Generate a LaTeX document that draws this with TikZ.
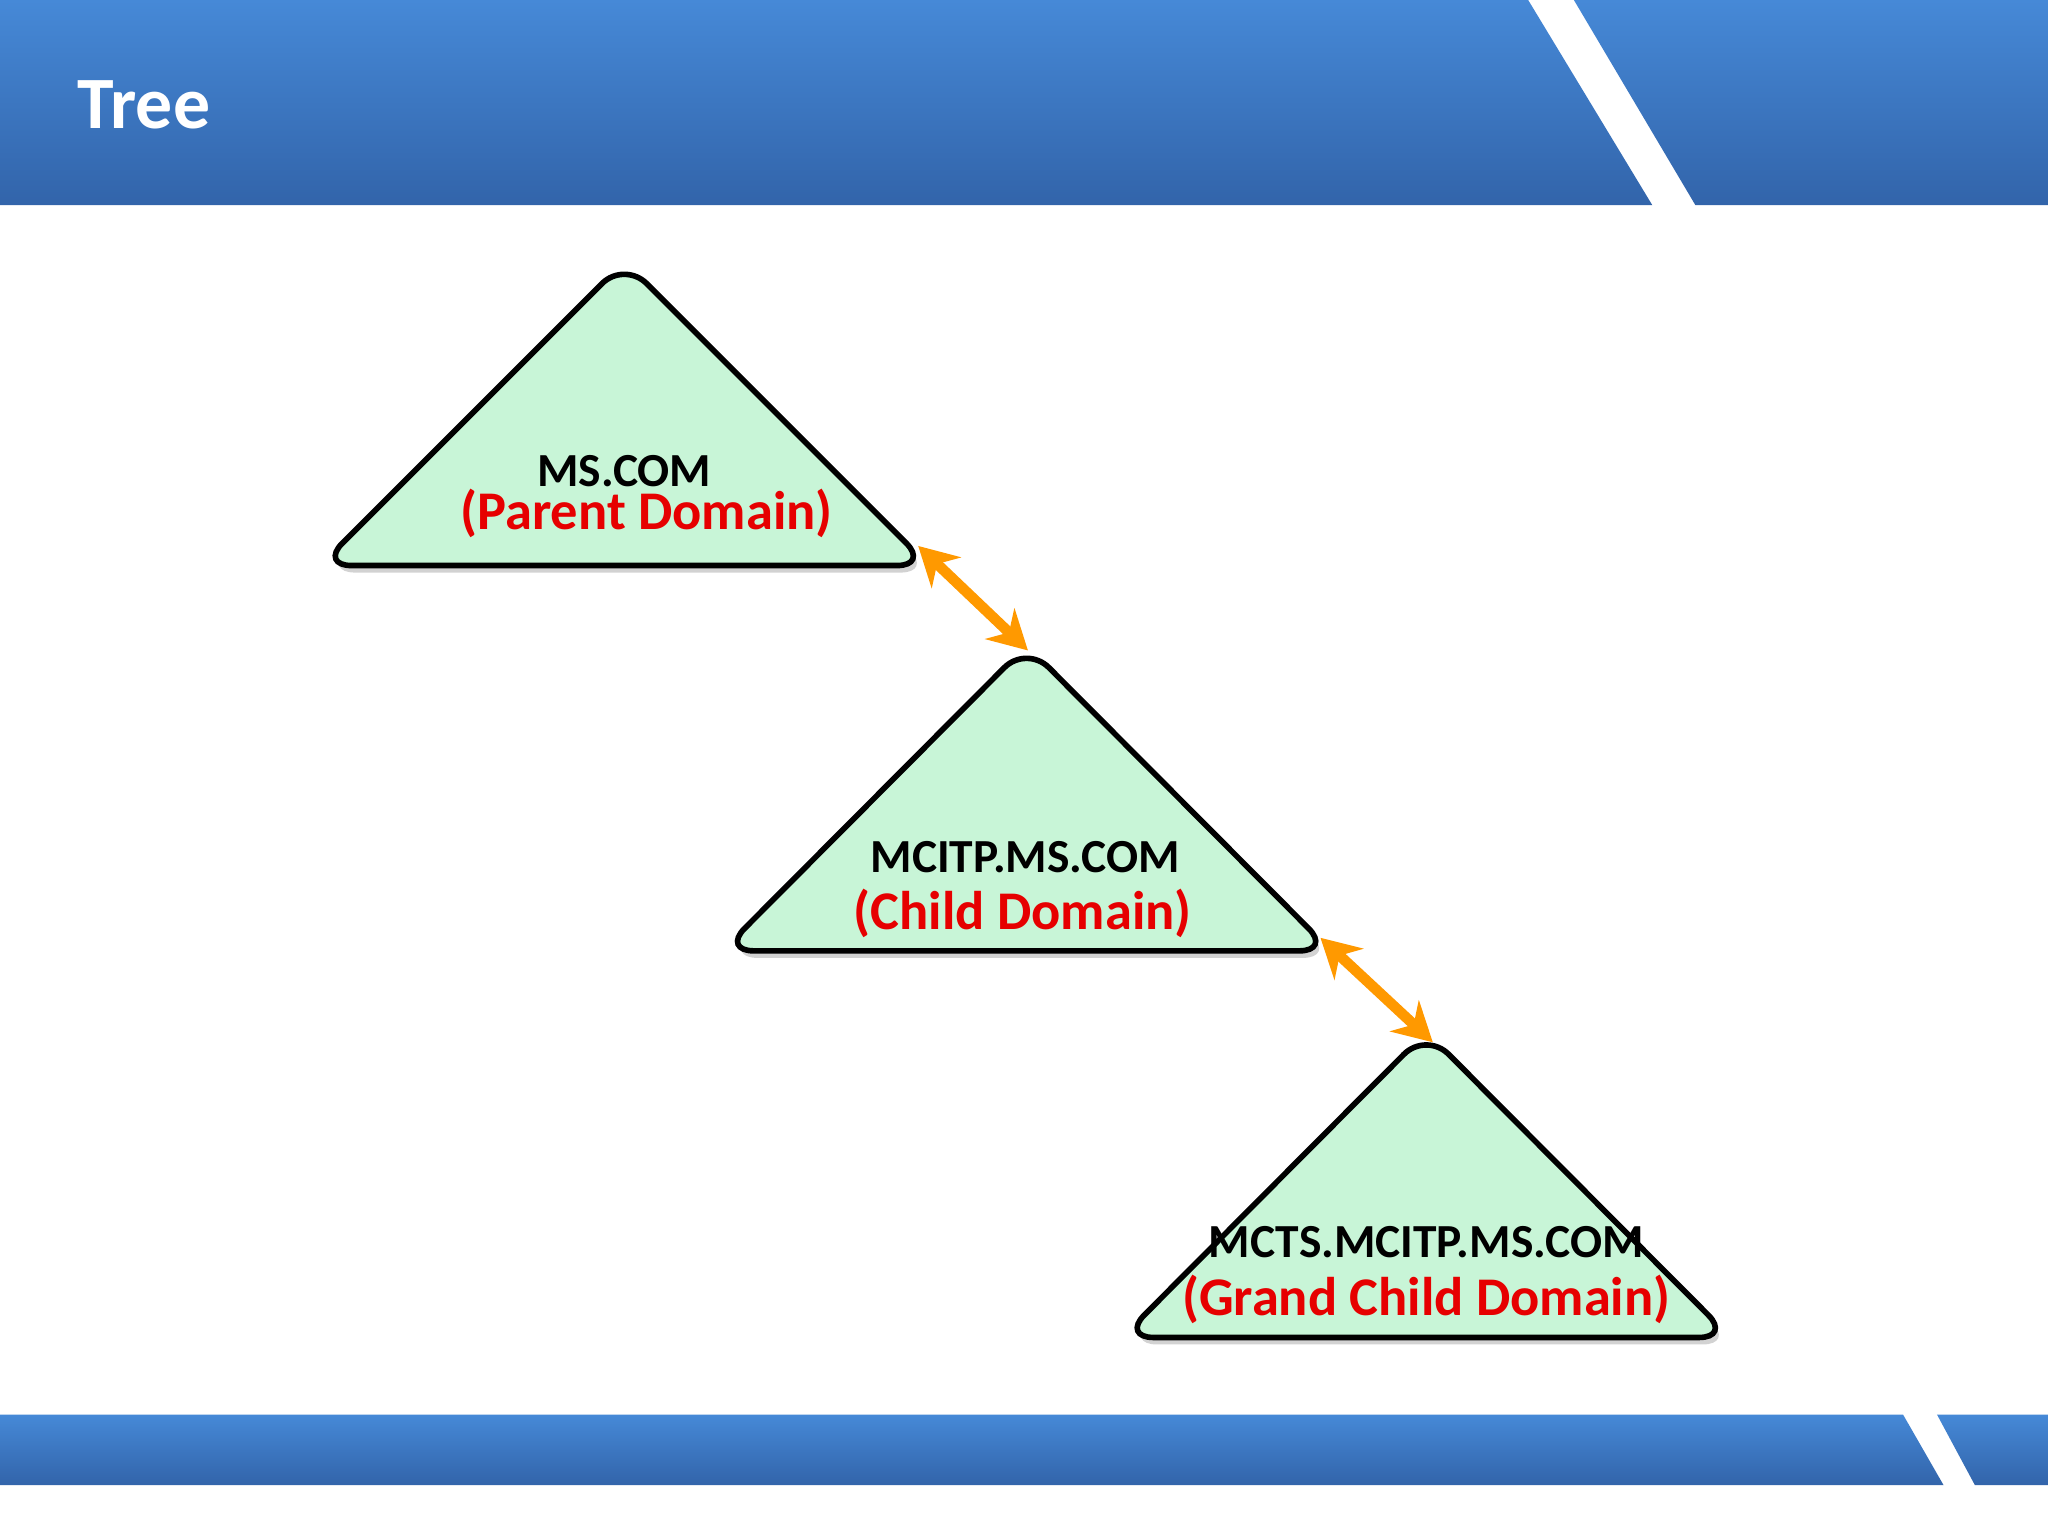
\documentclass[tikz,border=0pt]{standalone}
\usepackage{fontspec}
\setmainfont{Carlito}
\usetikzlibrary{arrows.meta,shadows}
\definecolor{bandA}{RGB}{70,137,215}
\definecolor{bandB}{RGB}{50,100,170}
\definecolor{trifill}{RGB}{200,245,215}
\definecolor{arr}{RGB}{255,153,0}
\definecolor{lblred}{RGB}{230,0,0}
\tikzset{
  band/.style={top color=bandA,bottom color=bandB,draw=none},
  tri/.style={fill=trifill,draw=black,line width=1.6pt,rounded corners=9pt,drop shadow={opacity=0.35,shadow xshift=1pt,shadow yshift=-2pt}},
  dname/.style={font=\bfseries\fontsize{13.5}{15}\selectfont,text=black},
  dsub/.style={font=\bfseries\fontsize{15.5}{17}\selectfont,text=lblred},
  link/.style={arr,line width=3pt,{Stealth[length=11pt,width=12pt]}-{Stealth[length=11pt,width=12pt]}}
}
\begin{document}
\begin{tikzpicture}[x=0.013061cm,y=-0.013061cm]
\useasboundingbox (0,0) rectangle (1568,1176);
\fill[white] (0,0) rectangle (1568,1176);
% header
\path[band] (0,0) -- (1170,0) -- (1265,157) -- (0,157) -- cycle;
\path[band] (1205,0) -- (1568,0) -- (1568,157) -- (1298,157) -- cycle;
\node[anchor=west,text=white,font=\bfseries\fontsize{21}{25}\selectfont] (title) at (50,80) {Tree};
% footer
\path[band] (0,1083) -- (1457,1083) -- (1488,1137) -- (0,1137) -- cycle;
\path[band] (1483,1083) -- (1568,1083) -- (1568,1137) -- (1512,1137) -- cycle;
% triangles
\path[tri] (478,200) -- (711,433) -- (245,433) -- cycle;
\path[tri] (786,494) -- (1019,728) -- (553,728) -- cycle;
\path[tri] (1092,790) -- (1325,1024) -- (859,1024) -- cycle;
\coordinate (t1r) at (703,418);
\coordinate (t2a) at (787,498);
\coordinate (t2r) at (1011,718);
\coordinate (t3a) at (1097,798);
\node[dname] (n1) at (478,361) {MS.COM};
\node[dsub] (s1) at (495,393) {(Parent Domain)};
\node[dname] (n2) at (785,656) {MCITP.MS.COM};
\node[dsub] (s2) at (783,699) {(Child Domain)};
\node[dname] (n3) at (1092,951) {MCTS.MCITP.MS.COM};
\node[dsub] (s3) at (1092,995) {(Grand Child Domain)};
\draw[link] (t1r) -- (t2a);
\draw[link] (t2r) -- (t3a);
\end{tikzpicture}
\end{document}
